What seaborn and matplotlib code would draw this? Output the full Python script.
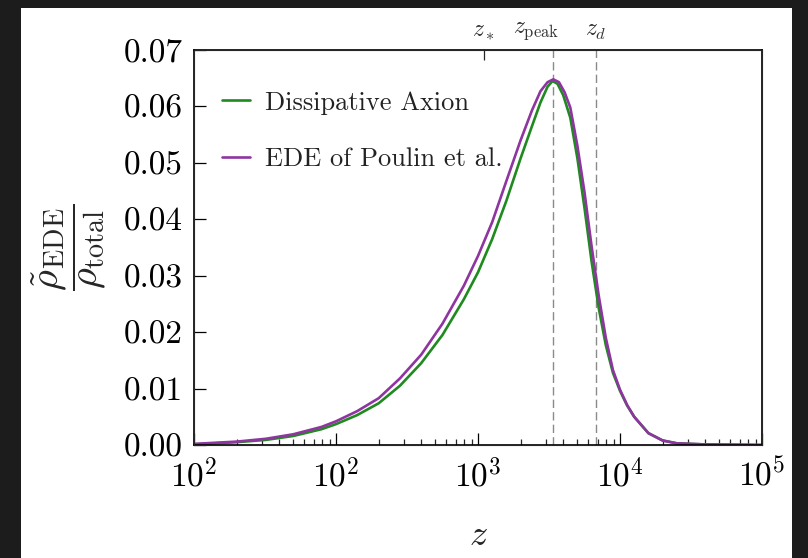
import numpy as np
import pandas as pd
import matplotlib
matplotlib.use("Agg")
import matplotlib.pyplot as plt
from matplotlib.patches import Rectangle
import seaborn as sns

# data
z_axion = [10, 20, 32, 50, 79, 100, 141, 200, 282, 398, 562, 794, 1000, 1259,
           1585, 1995, 2399, 2754, 3090, 3350, 3631, 3981, 4467, 5012, 5623,
           6310, 7079, 7943, 8913, 10000, 11220, 12589, 15849, 19953, 25119,
           39811, 100000]
rho_axion = [0.0001, 0.0005, 0.0009, 0.0016, 0.0028, 0.0037, 0.0053, 0.0074,
             0.0105, 0.0145, 0.0195, 0.0258, 0.0306, 0.0365, 0.0433, 0.0508,
             0.0565, 0.0607, 0.0635, 0.0645, 0.0640, 0.0620, 0.0580, 0.0508,
             0.0420, 0.0325, 0.0243, 0.0177, 0.0128, 0.0096, 0.0070, 0.0050,
             0.0021, 0.0008, 0.0003, 0.0001, 0.0]

z_poulin = [10, 20, 32, 50, 79, 100, 141, 200, 282, 398, 562, 794, 1000, 1259,
            1585, 1995, 2399, 2754, 3090, 3388, 3715, 4074, 4467, 5012, 5623,
            6310, 7079, 7943, 8913, 10000, 11220, 12589, 15849, 19953, 25119,
            39811, 100000]
rho_poulin = [0.0002, 0.0006, 0.0011, 0.0019, 0.0032, 0.0042, 0.0060, 0.0083,
              0.0118, 0.0160, 0.0215, 0.0282, 0.0335, 0.0395, 0.0468, 0.0540,
              0.0593, 0.0627, 0.0643, 0.0648, 0.0643, 0.0625, 0.0598, 0.0530,
              0.0448, 0.0352, 0.0265, 0.0190, 0.0133, 0.0098, 0.0071, 0.0050,
              0.0021, 0.0008, 0.0003, 0.0001, 0.0]

series_names = ["Dissipative Axion", "EDE of Poulin et al."]
series_colors = ["#1f8a1f", "#8e35a0"]

z_marks = [1100, 3400, 6750]          # z_*, z_peak, z_d
z_mark_labels = [r"$z_*$", r"$z_{\rm peak}$", r"$z_d$"]
z_label_pos = [1100, 2550, 6750]

xtick_vals = [1e1, 1e2, 1e3, 1e4, 1e5]
xtick_labels = [r"$10^2$", r"$10^2$", r"$10^3$", r"$10^4$", r"$10^5$"]
ytick_vals = [0.00, 0.01, 0.02, 0.03, 0.04, 0.05, 0.06, 0.07]

df = pd.concat([
    pd.DataFrame({"z": z_axion, "rho": rho_axion, "model": series_names[0]}),
    pd.DataFrame({"z": z_poulin, "rho": rho_poulin, "model": series_names[1]}),
])

sns.set_style("ticks")
plt.rcParams["font.family"] = ["cmr10", "DejaVu Serif"]
plt.rcParams["mathtext.fontset"] = "cm"
plt.rcParams["axes.formatter.use_mathtext"] = True

fig = plt.figure(figsize=(8.08, 5.58), dpi=100, facecolor="#1c1c1c")
fig.add_artist(Rectangle((21 / 808, 0), 771 / 808, 550 / 558, transform=fig.transFigure,
                         facecolor="white", edgecolor="none", zorder=-1))
ax = fig.add_axes([194 / 808, 1 - 445 / 558, 568 / 808, 395 / 558])
ax.set_xscale("log")

sns.lineplot(data=df, x="z", y="rho", hue="model", palette=dict(zip(series_names, series_colors)),
             sort=False, estimator=None, linewidth=1.9, ax=ax, legend=True)

for zm in z_marks[1:]:
    ax.axvline(zm, color="#8a8a8a", linestyle=(0, (6, 3)), linewidth=1.0, zorder=1)

ax.set_xlim(1e1, 1e5)
ax.set_ylim(0, 0.07)
ax.set_xticks(xtick_vals)
ax.set_xticklabels(xtick_labels)
ax.set_yticks(ytick_vals)
ax.set_yticklabels([f"{v:.2f}" for v in ytick_vals])
ax.tick_params(axis="both", which="major", direction="in", length=8.5, width=0.9,
               labelsize=24, colors="black")
ax.tick_params(axis="x", which="major", pad=9)
ax.tick_params(axis="y", which="major", pad=8)
ax.tick_params(axis="x", which="minor", direction="in", length=4, width=0.9)
ax.tick_params(top=False, right=False)
for sp in ax.spines.values():
    sp.set_linewidth(1.2)
    sp.set_color("black")

ax.set_xlabel(r"$z$", fontsize=26, labelpad=20)
ax.set_ylabel(r"$\dfrac{\tilde{\rho}_{\rm EDE}}{\rho_{\rm total}}$", fontsize=29, labelpad=11)

# top axis with the characteristic redshifts
ax2 = ax.twiny()
ax2.set_xscale("log")
ax2.set_xlim(ax.get_xlim())
ax2.set_xticks(z_label_pos)
ax2.set_xticklabels(z_mark_labels)
ax2.xaxis.set_minor_locator(matplotlib.ticker.NullLocator())
ax2.tick_params(axis="x", which="major", direction="in", length=7, width=0.9,
                labelsize=17, labelcolor="#333333", pad=6)
for t in ax2.xaxis.get_major_ticks()[1:]:
    t.tick2line.set_visible(False)

leg = ax.legend(loc="upper left", frameon=False, fontsize=19, handlelength=1.05,
                handletextpad=0.6, labelspacing=1.25, borderaxespad=0.4,
                bbox_to_anchor=(0.012, 0.95))
for txt in leg.get_texts():
    txt.set_color("#222222")

fig.savefig("out.png", dpi=100, facecolor=fig.get_facecolor())
